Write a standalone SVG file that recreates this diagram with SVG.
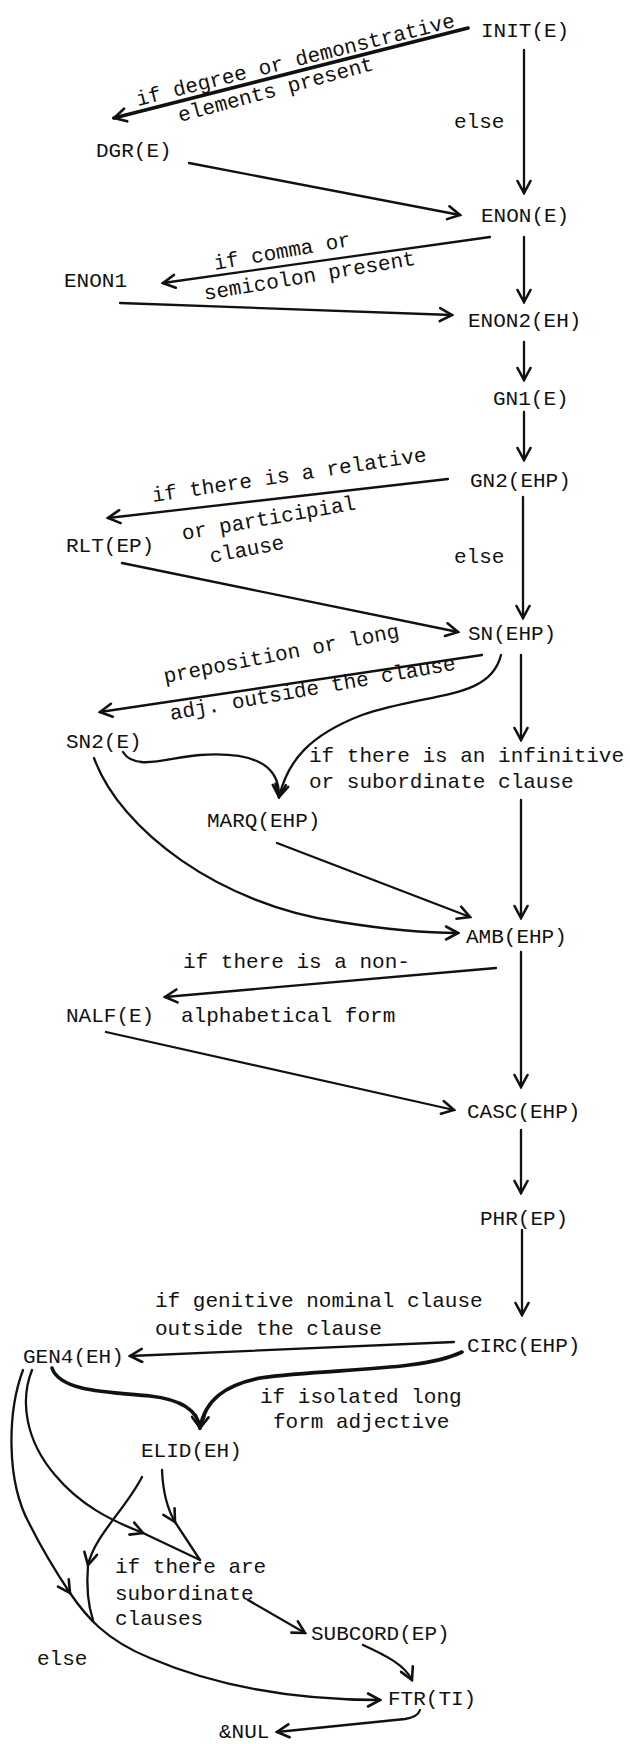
<svg xmlns="http://www.w3.org/2000/svg" width="630" height="1744" viewBox="0 0 630 1744">
<style>
text{font-family:"Liberation Mono","Courier New",monospace;font-size:21px;fill:#111}
.c{fill:none;stroke:#111;stroke-width:2.3;stroke-linecap:round}
.t{stroke-width:3.6}
.a{marker-end:url(#ah)}
</style>
<defs>
<marker id="ah" viewBox="-14 -8 16 16" refX="0" refY="0" markerWidth="16" markerHeight="16" markerUnits="userSpaceOnUse" orient="auto">
<path d="M-12,-6.5 L0,0 L-12,6.5" fill="none" stroke="#111" stroke-width="2.6" stroke-linecap="round" stroke-linejoin="miter"/>
</marker>
</defs>
<rect width="630" height="1744" fill="#fff"/>
<g id="connectors">
<path class="c t a" d="M468,28 L114,118"/>
<path class="c a" d="M524,50 L524,193"/>
<path class="c a" d="M189,163 L460,215"/>
<path class="c a" d="M490,237 L163,283"/>
<path class="c a" d="M524,237 L524,302"/>
<path class="c a" d="M120,303 L452,315"/>
<path class="c a" d="M524,342 L524,380"/>
<path class="c a" d="M524,412 L524,460"/>
<path class="c a" d="M448,479 L108,518"/>
<path class="c a" d="M523,497 L523,618"/>
<path class="c a" d="M122,563 L458,632"/>
<path class="c a" d="M482,655 L100,712"/>
<path class="c a" d="M501,655 C490,700 430,692 362,715 C310,735 288,760 279,797"/>
<path class="c a" d="M123,752 C135,772 170,757 200,755 C245,752 280,760 279,797"/>
<path class="c a" d="M521,655 L521,740"/>
<path class="c a" d="M521,800 L521,918"/>
<path class="c a" d="M277,843 L470,917"/>
<path class="c a" d="M94,758 C120,830 220,905 340,922 C390,930 430,933 458,933"/>
<path class="c a" d="M496,968 L165,997"/>
<path class="c a" d="M521,952 L521,1087"/>
<path class="c a" d="M106,1032 L454,1110"/>
<path class="c a" d="M521,1130 L521,1193"/>
<path class="c a" d="M522,1230 L522,1315"/>
<path class="c a" d="M454,1342 L130,1356"/>
<path class="c t a" d="M462,1352 C420,1372 330,1368 260,1378 C225,1385 205,1400 200,1428"/>
<path class="c t a" d="M52,1368 C60,1392 110,1392 150,1396 C185,1400 198,1412 200,1428"/>
<path class="c a" d="M23,1370 C8,1410 5,1480 30,1525 C45,1555 58,1575 70,1593"/>
<path class="c a" d="M70,1593 C85,1615 105,1640 150,1658 C220,1688 300,1700 380,1700"/>
<path class="c a" d="M32,1370 C20,1400 25,1440 55,1475 C80,1505 110,1520 143,1533"/>
<path class="c" d="M143,1533 L200,1560"/>
<path class="c a" d="M142,1477 C125,1510 95,1535 88,1565"/>
<path class="c" d="M88,1565 C86,1590 88,1605 93,1620"/>
<path class="c a" d="M162,1470 C163,1495 168,1510 175,1522"/>
<path class="c" d="M175,1522 L200,1560"/>
<path class="c a" d="M248,1600 L305,1633"/>
<path class="c a" d="M363,1645 C385,1655 405,1665 412,1680"/>
<path class="c a" d="M420,1710 C418,1716 412,1718 405,1719 L277,1732"/>
</g>
<g id="labels">
<text transform="translate(138,106) rotate(-14)">if degree or demonstrative</text>
<text transform="translate(180,122) rotate(-15)">elements present</text>
<text x="454" y="128">else</text>
<text transform="translate(215,270) rotate(-10)">if comma or</text>
<text transform="translate(205,300) rotate(-9.5)">semicolon present</text>
<text transform="translate(153,502) rotate(-8.5)">if there is a relative</text>
<text transform="translate(183,540) rotate(-10)">or participial</text>
<text transform="translate(211,563) rotate(-11)">clause</text>
<text x="454" y="563">else</text>
<text transform="translate(165,683) rotate(-11)">preposition or long</text>
<text transform="translate(171,720) rotate(-10)">adj. outside the clause</text>
<text x="309" y="762">if there is an infinitive</text>
<text x="309" y="788">or subordinate clause</text>
<text x="183" y="968">if there is a non-</text>
<text x="181" y="1022">alphabetical form</text>
<text x="155" y="1307">if genitive nominal clause</text>
<text x="155" y="1335">outside the clause</text>
<text x="260" y="1403">if isolated long</text>
<text x="273" y="1428">form adjective</text>
<text x="115" y="1573">if there are</text>
<text x="115" y="1600">subordinate</text>
<text x="115" y="1625">clauses</text>
<text x="37" y="1665">else</text>
</g>
<g id="n-init"><text x="481" y="37">INIT(E)</text></g>
<g id="n-dgr"><text x="96" y="157">DGR(E)</text></g>
<g id="n-enon"><text x="481" y="222">ENON(E)</text></g>
<g id="n-enon1"><text x="64" y="287">ENON1</text></g>
<g id="n-enon2"><text x="468" y="327">ENON2(EH)</text></g>
<g id="n-gn1"><text x="493" y="405">GN1(E)</text></g>
<g id="n-gn2"><text x="470" y="487">GN2(EHP)</text></g>
<g id="n-rlt"><text x="66" y="552">RLT(EP)</text></g>
<g id="n-sn"><text x="468" y="640">SN(EHP)</text></g>
<g id="n-sn2"><text x="66" y="748">SN2(E)</text></g>
<g id="n-marq"><text x="207" y="827">MARQ(EHP)</text></g>
<g id="n-amb"><text x="466" y="943">AMB(EHP)</text></g>
<g id="n-nalf"><text x="66" y="1022">NALF(E)</text></g>
<g id="n-casc"><text x="467" y="1118">CASC(EHP)</text></g>
<g id="n-phr"><text x="480" y="1225">PHR(EP)</text></g>
<g id="n-circ"><text x="467" y="1352">CIRC(EHP)</text></g>
<g id="n-gen4"><text x="23" y="1363">GEN4(EH)</text></g>
<g id="n-elid"><text x="141" y="1457">ELID(EH)</text></g>
<g id="n-subcord"><text x="311" y="1640">SUBCORD(EP)</text></g>
<g id="n-ftr"><text x="388" y="1705">FTR(TI)</text></g>
<g id="n-nul"><text x="219" y="1738">&amp;NUL</text></g>
</svg>
